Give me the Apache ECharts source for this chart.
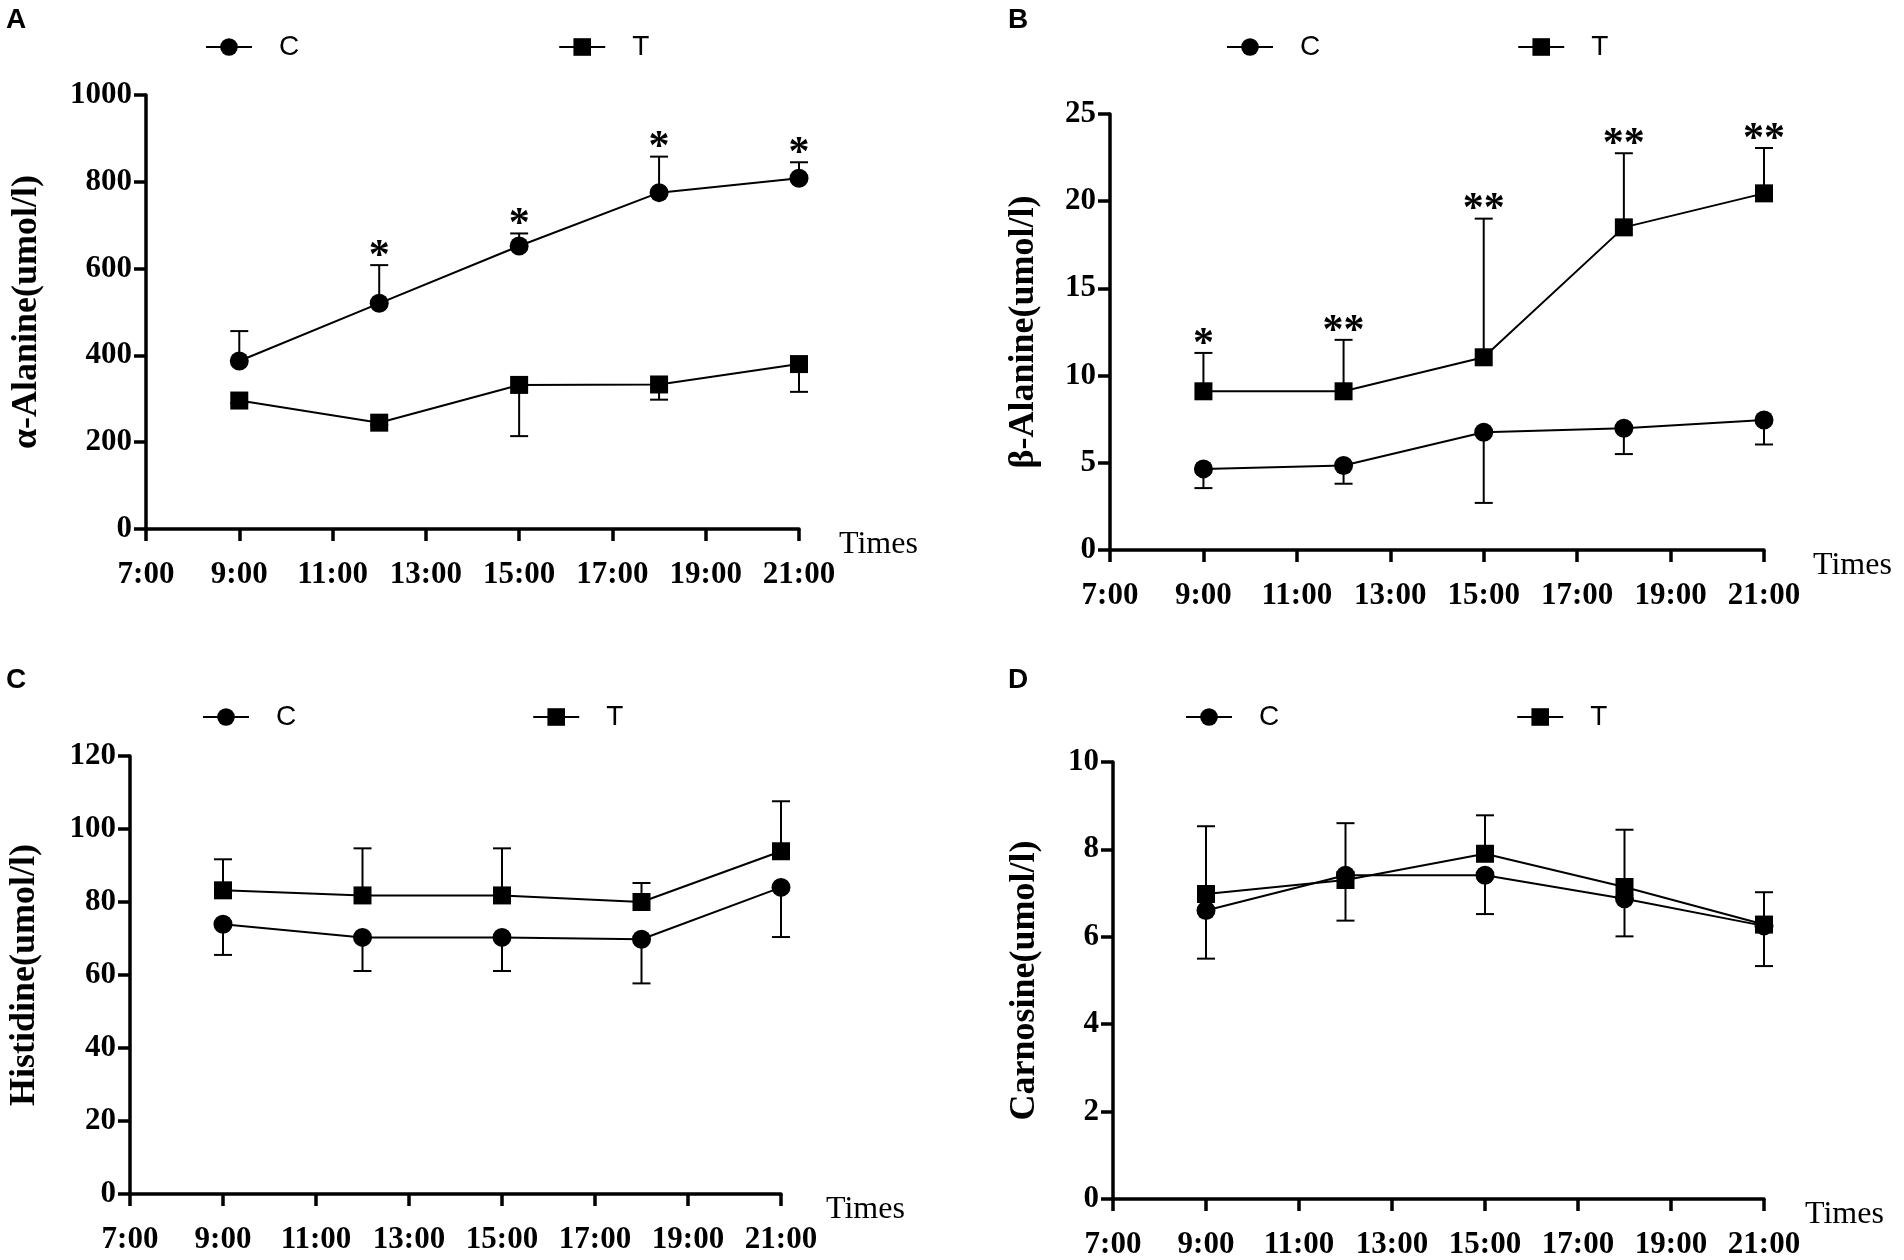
<!DOCTYPE html>
<html>
<head>
<meta charset="utf-8">
<title>Amino acids over the day</title>
<script src="https://cdn.jsdelivr.net/npm/echarts@6.0.0/dist/echarts.min.js"></script>
<style>
html, body { margin: 0; padding: 0; background: #fff; }
#main { width: 1904px; height: 1260px; }
</style>
</head>
<body>
<div id="main"></div>
<script>
// sampling times, hour of the day
var times = [9, 12, 15, 18, 21];
var timeTicks = [7, 9, 11, 13, 15, 17, 19, 21];

// A: alpha-alanine (mean and end of the error bar)
var aC = [387, 520, 652, 775, 808];
var aCEnd = [456, 608, 681, 858, 845];
var aT = [296, 245, 332, 333, 380];
var aTEnd = [290, 240, 214, 298, 316];
var aStars = ['', '*', '*', '*', '*'];

// B: beta-alanine
var bC = [4.65, 4.85, 6.75, 6.98, 7.45];
var bCEnd = [3.55, 3.8, 2.7, 5.5, 6.05];
var bT = [9.1, 9.1, 11.05, 18.5, 20.45];
var bTEnd = [11.3, 12.05, 19.0, 22.75, 23.05];
var bStars = ['*', '**', '**', '**', '**'];

// C: histidine
var cC = [73.9, 70.3, 70.3, 69.8, 84.0];
var cCEnd = [65.5, 61.1, 61.1, 57.7, 70.4];
var cT = [83.2, 81.8, 81.8, 80.0, 93.9];
var cTEnd = [91.7, 94.7, 94.7, 85.2, 107.6];

// D: carnosine
var dC = [6.60, 7.41, 7.41, 6.87, 6.25];
var dCEnd = [5.50, 6.37, 6.52, 6.01, 5.33];
var dT = [6.98, 7.30, 7.90, 7.14, 6.28];
var dTEnd = [8.53, 8.60, 8.78, 8.45, 7.02];

var panels = [
	{letter: 'A', lx: 6, ly: 6, left: 146, top: 95, width: 653, height: 434, max: 1000, step: 200,
	 name: 'α-Alanine(umol/l)', nameGap: 101, timesGap: 38, legLeft: 205, legTop: 33, legGap: 259,
	 c: aC, cEnd: aCEnd, t: aT, tEnd: aTEnd, cStars: aStars, tStars: null},
	{letter: 'B', lx: 1008, ly: 6, left: 1110, top: 114, width: 654, height: 436, max: 25, step: 5,
	 name: 'β-Alanine(umol/l)', nameGap: 68, timesGap: 49, legLeft: 1226, legTop: 33, legGap: 197,
	 c: bC, cEnd: bCEnd, t: bT, tEnd: bTEnd, cStars: null, tStars: bStars},
	{letter: 'C', lx: 6, ly: 666, left: 130, top: 756, width: 651, height: 438, max: 120, step: 20,
	 name: 'Histidine(umol/l)', nameGap: 87, timesGap: 45, legLeft: 202, legTop: 703, legGap: 236,
	 c: cC, cEnd: cCEnd, t: cT, tEnd: cTEnd, cStars: null, tStars: null},
	{letter: 'D', lx: 1008, ly: 666, left: 1113, top: 762, width: 651, height: 438, max: 10, step: 2,
	 name: 'Carnosine(umol/l)', nameGap: 70, timesGap: 41, legLeft: 1185, legTop: 703, legGap: 237,
	 c: dC, cEnd: dCEnd, t: dT, tEnd: dTEnd, cStars: null, tStars: null}
];

var serif = '"Liberation Serif", "Times New Roman", serif';
var sans = '"Liberation Sans", Arial, sans-serif';

function pairs(ys) {
	var out = [];
	for (var i = 0; i < times.length; i++) out.push([times[i], ys[i]]);
	return out;
}

function bars(ys, ends) {
	var out = [];
	for (var i = 0; i < times.length; i++) out.push([times[i], ys[i], ends[i]]);
	return out;
}

// one sided error bar with a cap, optional significance stars on top
function errorBar(stars) {
	return function (params, api) {
		var p = api.coord([api.value(0), api.value(1)]);
		var e = api.coord([api.value(0), api.value(2)]);
		var kids = [
			{type: 'line', shape: {x1: p[0], y1: p[1], x2: e[0], y2: e[1]}, style: {stroke: '#000', lineWidth: 2}},
			{type: 'line', shape: {x1: e[0] - 9, y1: e[1], x2: e[0] + 9, y2: e[1]}, style: {stroke: '#000', lineWidth: 2}}
		];
		var s = stars ? stars[params.dataIndex] : '';
		if (s) {
			kids.push({type: 'text', x: e[0], y: e[1] - 8,
				style: {text: s, fontFamily: serif, fontWeight: 'bold', fontSize: 42, fill: '#000',
					align: 'center', verticalAlign: 'middle'}});
		}
		return {type: 'group', children: kids};
	};
}

var option = {
	backgroundColor: '#fff',
	animation: false,
	title: [], legend: [], grid: [], xAxis: [], yAxis: [], series: []
};

for (var i = 0; i < panels.length; i++) {
	var pn = panels[i];
	option.title.push({
		text: pn.letter, left: pn.lx, top: pn.ly, padding: 0,
		textStyle: {fontFamily: sans, fontWeight: 'bold', fontSize: 28, color: '#000'}
	});
	option.legend.push({
		data: ['C', 'T'], left: pn.legLeft, top: pn.legTop, padding: 0,
		itemWidth: 46, itemHeight: 22, itemGap: pn.legGap, selectedMode: false,
		textStyle: {fontFamily: sans, fontSize: 28, color: '#000', padding: [0, 0, 0, 22]}
	});
	option.grid.push({left: pn.left, top: pn.top, width: pn.width, height: pn.height});
	option.xAxis.push({
		type: 'value', gridIndex: i, min: timeTicks[0], max: timeTicks[timeTicks.length - 1], interval: 2,
		name: 'Times', nameLocation: 'end', nameGap: pn.timesGap,
		nameTextStyle: {fontFamily: serif, fontSize: 32, color: '#000', verticalAlign: 'top', padding: 0},
		axisLine: {lineStyle: {color: '#000', width: 3.5}},
		axisTick: {length: 12, lineStyle: {color: '#000', width: 3.5}},
		axisLabel: {margin: 30, color: '#000', fontFamily: serif, fontWeight: 'bold', fontSize: 31,
			formatter: function (v) { return v + ':00'; }},
		splitLine: {show: false}
	});
	option.yAxis.push({
		type: 'value', gridIndex: i, min: 0, max: pn.max, interval: pn.step,
		name: pn.name, nameLocation: 'middle', nameRotate: 90, nameGap: pn.nameGap,
		nameTextStyle: {fontFamily: serif, fontWeight: 'bold', fontSize: 36, color: '#000'},
		axisLine: {show: true, lineStyle: {color: '#000', width: 3.5}},
		axisTick: {show: true, length: 12, lineStyle: {color: '#000', width: 3.5}},
		axisLabel: {margin: 14, color: '#000', fontFamily: serif, fontWeight: 'bold', fontSize: 31,
			formatter: function (v) { return String(v); }},
		splitLine: {show: false}
	});
	option.series.push(
		{type: 'custom', xAxisIndex: i, yAxisIndex: i, z: 1, renderItem: errorBar(pn.cStars), data: bars(pn.c, pn.cEnd)},
		{type: 'custom', xAxisIndex: i, yAxisIndex: i, z: 1, renderItem: errorBar(pn.tStars), data: bars(pn.t, pn.tEnd)},
		{type: 'line', name: 'C', xAxisIndex: i, yAxisIndex: i, z: 3, data: pairs(pn.c),
		 symbol: 'circle', symbolSize: 19, itemStyle: {color: '#000'}, lineStyle: {color: '#000', width: 2}},
		{type: 'line', name: 'T', xAxisIndex: i, yAxisIndex: i, z: 3, data: pairs(pn.t),
		 symbol: 'rect', symbolSize: 18, itemStyle: {color: '#000'}, lineStyle: {color: '#000', width: 2}}
	);
}

var myChart = echarts.init(document.getElementById('main'));
myChart.setOption(option);
</script>
</body>
</html>
